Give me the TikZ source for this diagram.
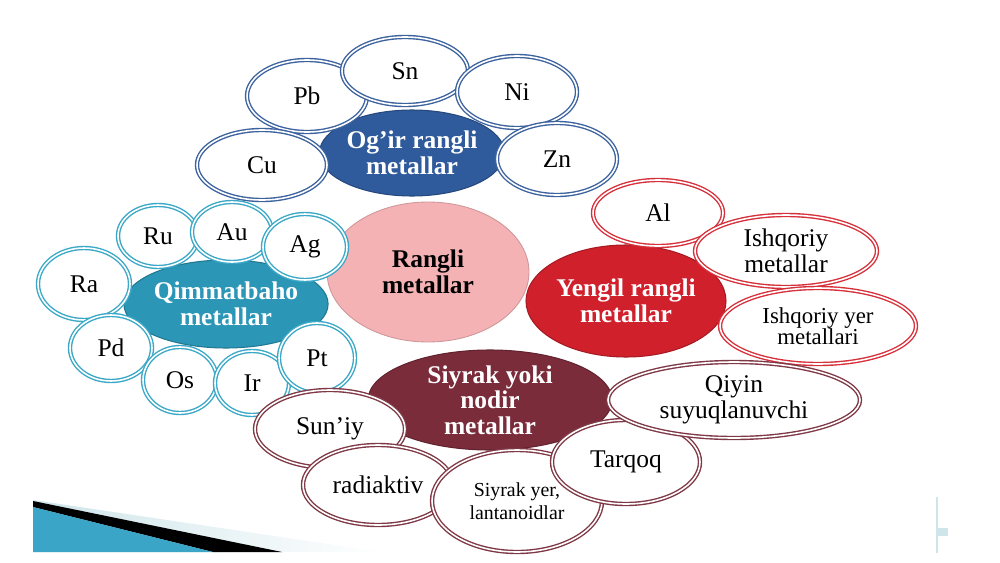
\documentclass[tikz,border=0pt]{standalone}
\usepackage{fontspec}
\setmainfont{Liberation Serif}
\usetikzlibrary{shapes.geometric}
\definecolor{heavyblue}{HTML}{2F5A9B}
\definecolor{heavyline}{HTML}{3D639F}
\definecolor{nobleteal}{HTML}{2B96B6}
\definecolor{nobleline}{HTML}{3AA8C6}
\definecolor{lightred}{HTML}{D0202C}
\definecolor{lightline}{HTML}{D6303B}
\definecolor{rareplum}{HTML}{7B2C3B}
\definecolor{rareline}{HTML}{7F3946}
\definecolor{corepink}{HTML}{F4B2B5}
\definecolor{slideblue}{HTML}{3AA5C6}
\definecolor{slidepale}{HTML}{CFE5EA}

\begin{document}
\begin{tikzpicture}[x=0.2mm, y=-0.2mm,
    main/.style = {ellipse, draw=#1, line width=0.8pt, double=white, double distance=0.9pt, fill=white, inner sep=0pt, align=center, font=\fontsize{14.5}{14.5}\selectfont},
    hub/.style = {ellipse, draw=#1!80!black, fill=#1, line width=0.6pt, inner sep=0pt, align=center, text=white, font=\bfseries\fontsize{14.5}{14.5}\selectfont}]
    \useasboundingbox (0, 0) rectangle (1000, 562);

    % slide corner
    \shade[left color=slidepale, right color=white] (33, 500) -- (382, 552) -- (33, 552) -- cycle;
    \fill[black] (33, 501) -- (282, 552) -- (213, 552) -- (33, 507) -- cycle;
    \fill[slideblue] (33, 507) -- (213, 552) -- (33, 552) -- cycle;
    \draw[slidepale, line width=0.8pt] (937, 497) -- (937, 553);
    \fill[slidepale] (936, 528) rectangle (948, 536);

    \node[ellipse, draw=corepink!85!black, fill=corepink, line width=0.5pt, minimum width=40.4mm, minimum height=28mm, align=center, font=\bfseries\fontsize{14.5}{14.5}\selectfont] (rangli) at (428, 272) {Rangli\\metallar};

    % og'ir
    \node[hub=heavyblue, minimum width=34.8mm, minimum height=17.2mm] (ogir) at (412, 153) {Og’ir rangli\\metallar};
    \node[main=heavyline, minimum width=24mm, minimum height=14.4mm] (pb) at (307, 96) {Pb};
    \node[main=heavyline, minimum width=25.2mm, minimum height=13.6mm] (sn) at (405, 71) {Sn};
    \node[main=heavyline, minimum width=24mm, minimum height=14.4mm] (ni) at (517, 92) {Ni};
    \node[main=heavyline, minimum width=26mm, minimum height=14mm] (cu) at (262, 165) {Cu};
    \node[main=heavyline, minimum width=24mm, minimum height=14.4mm] (zn) at (557, 159) {Zn};

    % qimmatbaho
    \node[hub=nobleteal, minimum width=40.4mm, minimum height=17.6mm] (qimmat) at (226, 304) {Qimmatbaho\\metallar};
    \node[main=nobleline, minimum width=16mm, minimum height=12.4mm] (ru) at (158, 236) {Ru};
    \node[main=nobleline, minimum width=16mm, minimum height=12mm] (au) at (232, 232) {Au};
    \node[main=nobleline, minimum width=16.8mm, minimum height=13.2mm] (ag) at (305, 247) {Ag};
    \node[main=nobleline, minimum width=18.4mm, minimum height=14.4mm] (ra) at (84, 284) {Ra};
    \node[main=nobleline, minimum width=16.4mm, minimum height=13.2mm] (pd) at (111, 348) {Pd};
    \node[main=nobleline, minimum width=14.8mm, minimum height=13.2mm] (os) at (180, 380) {Os};
    \node[main=nobleline, minimum width=14.8mm, minimum height=12.8mm] (ir) at (252, 383) {Ir};
    \node[main=nobleline, minimum width=15.2mm, minimum height=14mm] (pt) at (317, 358) {Pt};

    % yengil
    \node[hub=lightred, minimum width=40mm, minimum height=22.4mm] (yengil) at (626, 301) {Yengil rangli\\metallar};
    \node[main=lightline, minimum width=26mm, minimum height=13.2mm] (al) at (658, 213) {Al};
    \node[main=lightline, minimum width=36.4mm, minimum height=14.4mm] (ishq) at (786, 251) {Ishqoriy\\metallar};
    \node[main=lightline, minimum width=39.2mm, minimum height=15.2mm, font=\fontsize{13}{12}\selectfont] (ishqyer) at (818, 326) {Ishqoriy yer\\metallari};

    % siyrak
    \node[hub=rareplum, minimum width=48.8mm, minimum height=20mm] (siyrak) at (490, 400) {Siyrak yoki\\nodir\\metallar};
    \node[main=rareline, minimum width=30mm, minimum height=15.6mm] (suniy) at (330, 429) {Sun’iy};
    \node[main=rareline, minimum width=30mm, minimum height=16mm] (radiak) at (378, 485) {radiaktiv};
    \node[main=rareline, minimum width=34mm, minimum height=20.4mm, font=\fontsize{11.3}{13}\selectfont] (siyrakyer) at (517, 501) {Siyrak yer,\\lantanoidlar};
    \node[main=rareline, minimum width=29.6mm, minimum height=16.8mm] (tarqoq) at (626, 462) {Tarqoq};
    \node[main=rareline, minimum width=50.4mm, minimum height=15.2mm] (qiyin) at (734, 400) {Qiyin\\suyuqlanuvchi};

\end{tikzpicture}
\end{document}
